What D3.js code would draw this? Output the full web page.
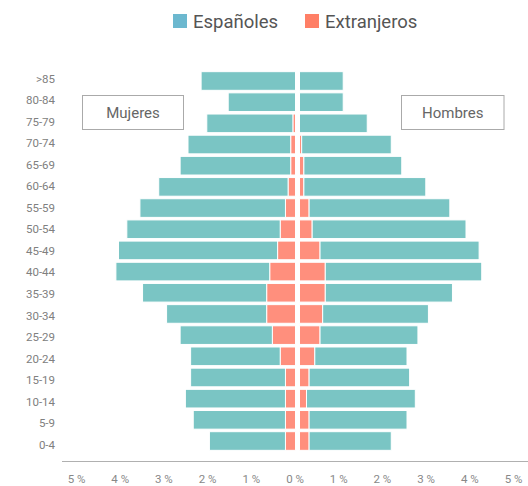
<!DOCTYPE html>
<html>
<head>
<meta charset="utf-8">
<script src="https://cdn.jsdelivr.net/npm/d3@7"></script>
<style>
  html, body { margin: 0; padding: 0; background: #fff; }
  svg { display: block; font-family: Roboto, "Noto Sans", sans-serif; }
</style>
</head>
<body>
<svg id="chart" width="528" height="486"></svg>
<script>
const categories = [">85","80-84","75-79","70-74","65-69","60-64","55-59","50-54","45-49","40-44","35-39","30-34","25-29","20-24","15-19","10-14","5-9","0-4"];
const mujeresEspanoles  = [2.16,1.54,1.97,2.35,2.53,2.96,3.33,3.51,3.64,3.52,2.84,2.29,2.11,2.05,2.17,2.29,2.11,1.74];
const mujeresExtranjeros = [0.00,0.00,0.06,0.11,0.11,0.17,0.23,0.35,0.41,0.59,0.66,0.66,0.53,0.35,0.23,0.23,0.23,0.23];
const hombresEspanoles  = [1.00,1.00,1.55,2.05,2.24,2.79,3.22,3.52,3.64,3.58,2.91,2.42,2.24,2.11,2.30,2.49,2.24,1.88];
const hombresExtranjeros = [0.00,0.00,0.00,0.05,0.10,0.10,0.22,0.29,0.47,0.59,0.59,0.53,0.47,0.35,0.22,0.16,0.22,0.22];
const tickValues = [-5,-4,-3,-2,-1,0,1,2,3,4,5];
const seriesNames = ["Españoles","Extranjeros"];

const colEsp = "#7ac5c4", colExt = "#ff8f7d";
const legEsp = "#6cb8cf", legExt = "#ff7f66";

const svg = d3.select("#chart");

const y = d3.scaleBand().domain(categories).range([70.4, 451.6]).paddingInner(0.12).paddingOuter(0.06);
const yLab = d3.scalePoint().domain(categories).range([78.5, 444.5]);
const xL = d3.scaleLinear().domain([0,5]).range([295.5, 295.5 - 218.5]);
const xR = d3.scaleLinear().domain([0,5]).range([299.5, 299.5 + 218.5]);
const xAxisScale = d3.scaleLinear().domain([-5,5]).range([76, 513]);

const rows = categories.map((c,i) => ({
  cat: c,
  mEsp: mujeresEspanoles[i], mExt: mujeresExtranjeros[i],
  hEsp: hombresEspanoles[i], hExt: hombresExtranjeros[i]
}));

const g = svg.append("g");
// Left (mujeres): extranjeros near centre, españoles outside
g.selectAll("rect.mext").data(rows.filter(d => d.mExt > 0)).join("rect")
  .attr("x", d => xL(d.mExt)).attr("width", d => xL(0) - xL(d.mExt))
  .attr("y", d => y(d.cat)).attr("height", y.bandwidth())
  .attr("fill", colExt).attr("stroke", "#fff").attr("stroke-width", 1);
g.selectAll("rect.mesp").data(rows).join("rect")
  .attr("x", d => xL(d.mExt + d.mEsp)).attr("width", d => xL(d.mExt) - xL(d.mExt + d.mEsp))
  .attr("y", d => y(d.cat)).attr("height", y.bandwidth())
  .attr("fill", colEsp).attr("stroke", "#fff").attr("stroke-width", 1);
// Right (hombres)
g.selectAll("rect.hext").data(rows.filter(d => d.hExt > 0)).join("rect")
  .attr("x", d => xR(0)).attr("width", d => xR(d.hExt) - xR(0))
  .attr("y", d => y(d.cat)).attr("height", y.bandwidth())
  .attr("fill", colExt).attr("stroke", "#fff").attr("stroke-width", 1);
g.selectAll("rect.hesp").data(rows).join("rect")
  .attr("x", d => xR(d.hExt)).attr("width", d => xR(d.hExt + d.hEsp) - xR(d.hExt))
  .attr("y", d => y(d.cat)).attr("height", y.bandwidth())
  .attr("fill", colEsp).attr("stroke", "#fff").attr("stroke-width", 1);

// Y axis labels
const yAxis = d3.axisLeft(yLab).tickSize(0).tickPadding(0);
const ya = svg.append("g").attr("transform", "translate(55,0)").call(yAxis);
ya.select(".domain").remove();
ya.selectAll("text").attr("fill", "#808080").attr("font-size", 11.5).attr("font-family", "Roboto, sans-serif");

// X axis
const xAxis = d3.axisBottom(xAxisScale).tickValues(tickValues).tickSize(0).tickPadding(13)
  .tickFormat(d => Math.abs(d) + " %");
const xa = svg.append("g").attr("transform", "translate(0,462)").call(xAxis);
xa.select(".domain").remove();
xa.selectAll("text").attr("fill", "#888").attr("font-size", 11.5).attr("font-family", "Roboto, sans-serif");
svg.append("line").attr("x1", 62).attr("x2", 528).attr("y1", 461.5).attr("y2", 461.5)
  .attr("stroke", "#b0b0b0").attr("stroke-width", 1);

// Side boxes
function sideBox(x, w, label) {
  svg.append("rect").attr("x", x).attr("y", 95.5).attr("width", w).attr("height", 34)
    .attr("fill", "#fff").attr("stroke", "#aaa").attr("stroke-width", 1);
  svg.append("text").attr("x", x + w/2).attr("y", 118).attr("text-anchor", "middle")
    .attr("fill", "#666").attr("font-size", 15).text(label);
}
sideBox(82.5, 101, "Mujeres");
sideBox(401.5, 102.5, "Hombres");

// Legend
const legend = svg.append("g");
const legItems = [{name: seriesNames[0], c: legEsp, x: 173}, {name: seriesNames[1], c: legExt, x: 305}];
legItems.forEach(it => {
  legend.append("rect").attr("x", it.x).attr("y", 14).attr("width", 14).attr("height", 14).attr("fill", it.c);
  legend.append("text").attr("x", it.x + 20).attr("y", 28).attr("fill", "#555").attr("font-size", 18.5).text(it.name);
});
</script>
</body>
</html>
